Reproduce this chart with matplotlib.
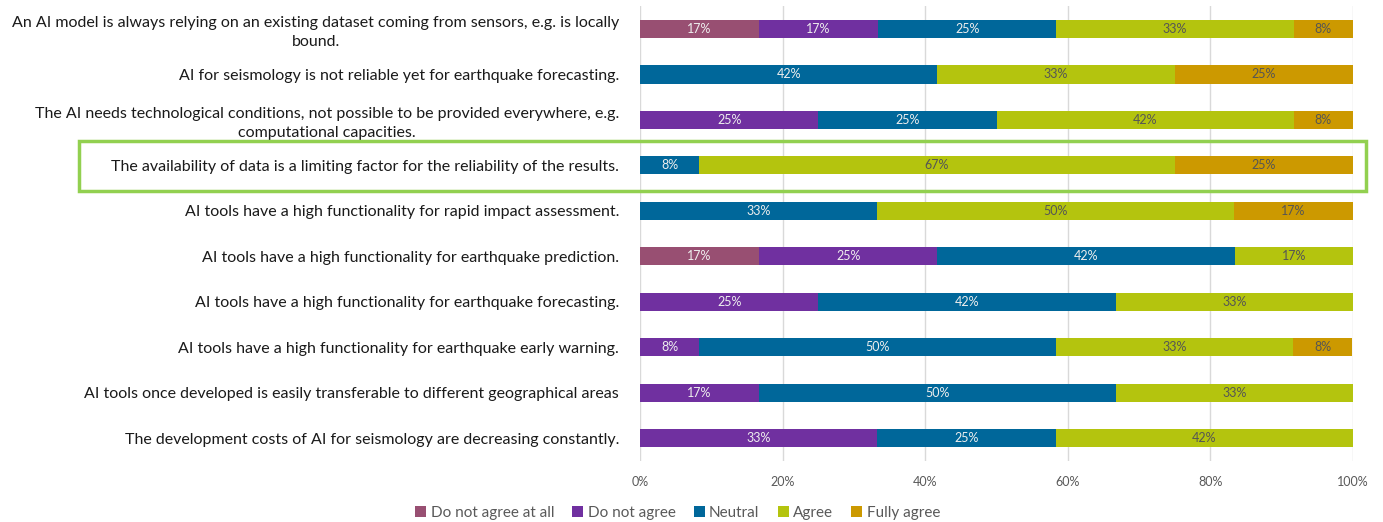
import matplotlib
matplotlib.use("Agg")
import matplotlib.pyplot as plt
import matplotlib.transforms as mtransforms
from matplotlib.patches import Rectangle
import numpy as np

plt.rcParams["font.family"] = ["Lato", "DejaVu Sans"]

statements = [
    "An AI model is always relying on an existing dataset coming from sensors, e.g. is locally\nbound.",
    "AI for seismology is not reliable yet for earthquake forecasting.",
    "The AI needs technological conditions, not possible to be provided everywhere, e.g.\ncomputational capacities.",
    "The availability of data is a limiting factor for the reliability of the results.",
    "AI tools have a high functionality for rapid impact assessment.",
    "AI tools have a high functionality for earthquake prediction.",
    "AI tools have a high functionality for earthquake forecasting.",
    "AI tools have a high functionality for earthquake early warning.",
    "AI tools once developed is easily transferable to different geographical areas",
    "The development costs of AI for seismology are decreasing constantly.",
]

responses = ["Do not agree at all", "Do not agree", "Neutral", "Agree", "Fully agree"]

# share of respondents in percent, one list per response, rows in statement order
not_at_all = [16.7, 0, 0, 0, 0, 16.7, 0, 0, 0, 0]
not_agree = [16.7, 0, 25.0, 0, 0, 25.0, 25.0, 8.3, 16.7, 33.3]
neutral = [25.0, 41.7, 25.0, 8.3, 33.3, 41.7, 41.7, 50.0, 50.0, 25.0]
agree = [33.3, 33.3, 41.7, 66.7, 50.0, 16.7, 33.3, 33.3, 33.3, 41.7]
fully = [8.3, 25.0, 8.3, 25.0, 16.7, 0, 0, 8.3, 0, 0]

highlight_row = 3

colors = ["#984f72", "#7030a0", "#00679a", "#b4c40e", "#cc9900"]
text_colors = ["#eeeeee", "#eeeeee", "#eeeeee", "#555555", "#555555"]

fig = plt.figure(figsize=(13.83, 5.22), dpi=100)
ax = fig.add_axes([0.4628, 0.117, 0.5155, 0.871])

y = np.arange(len(statements))
left = np.zeros(len(statements))
for name, vals, col, tcol in zip(responses, [not_at_all, not_agree, neutral, agree, fully],
                                 colors, text_colors):
    vals = np.array(vals)
    bars = ax.barh(y, vals, left=left, height=0.4, color=col, label=name, zorder=2)
    for b, v in zip(bars, vals):
        if v > 0:
            ax.text(b.get_x() + b.get_width() / 2, b.get_y() + b.get_height() / 2,
                    f"{v:.0f}%", ha="center", va="center", fontsize=9, color=tcol, zorder=3)
    left += vals

ax.set_xlim(0, 100)
ax.set_ylim(len(statements) - 0.5, -0.5)
ax.set_xticks(np.arange(0, 101, 20))
ax.set_xticklabels([f"{t}%" for t in range(0, 101, 20)], fontsize=9, color="#595959")
ax.set_yticks(y)
ax.set_yticklabels(statements, fontsize=11.5, color="#1a1a1a", multialignment="center",
                   linespacing=1.45)
ax.tick_params(axis="both", length=0)
ax.tick_params(axis="x", pad=11)
ax.tick_params(axis="y", pad=15)
ax.grid(axis="x", color="#d9d9d9", linewidth=1, zorder=0)
for s in ax.spines.values():
    s.set_visible(False)

# green highlight box around one statement
trans = mtransforms.blended_transform_factory(fig.transFigure, ax.transData)
box = Rectangle((0.057, highlight_row - 0.53), 0.931, 1.1, transform=trans,
                fill=False, edgecolor="#92d050", linewidth=2.5, clip_on=False)
fig.patches.append(box)

fig.legend(loc="lower center", bbox_to_anchor=(0.49, -0.022), ncol=5, frameon=False,
           fontsize=11, handlelength=0.7, handleheight=0.7, handletextpad=0.3,
           columnspacing=1.2, labelcolor="#595959")

fig.savefig("out.png", dpi=100)
